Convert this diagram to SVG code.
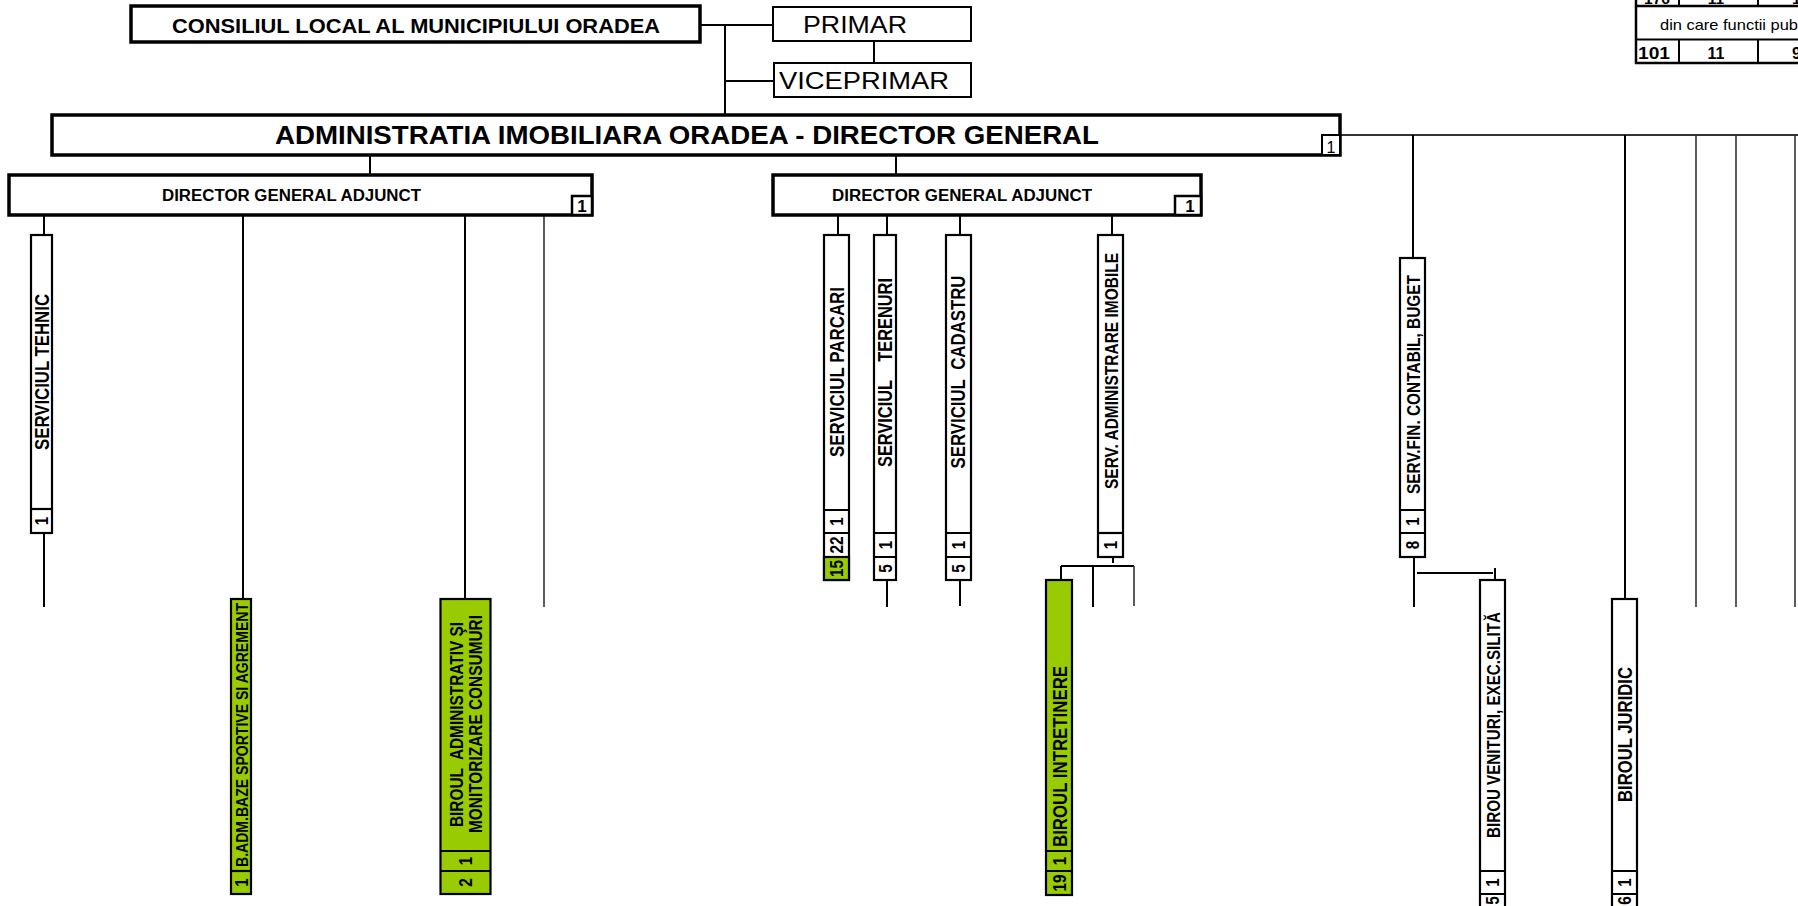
<svg xmlns="http://www.w3.org/2000/svg" width="1798" height="906" viewBox="0 0 1798 906">
<style>
text{font-family:"Liberation Sans",Arial,sans-serif;fill:#000}
.b{font-weight:bold}
.box3{fill:#fff;stroke:#000;stroke-width:3.5}
.box2{fill:#fff;stroke:#000;stroke-width:2}
.vb{fill:#fff;stroke:#000;stroke-width:2.2}
.gb{fill:#99cc00;stroke:#000;stroke-width:2.2}
.dv{stroke:#000;stroke-width:2.2;fill:none}
.cn path{fill:none;stroke:#000;stroke-width:2}
.cn path.thin{stroke:#333;stroke-width:1.6}
.vt{font-weight:bold}
.vn{font-weight:bold;font-size:18px;text-anchor:middle}
.tl{fill:none;stroke:#000;stroke-width:2.5}
</style>

<g id="connectors" class="cn">
<path d="M700,25 H773"/>
<path d="M725,25 V115"/>
<path d="M725,81 H774"/>
<path d="M874,41 V63"/>
<path d="M370,155 V175"/>
<path d="M896,155 V175"/>
<path class="thin" d="M1340,135 H1798" style="stroke-width:1.8"/>
<path d="M1413,135 V258"/>
<path d="M1625,135 V599"/>
<path class="thin" d="M1696,135 V607"/>
<path class="thin" d="M1736,135 V607"/>
<path class="thin" d="M1795,135 V607"/>
<path d="M44,215 V235"/>
<path d="M44,533 V607"/>
<path d="M243,215 V599"/>
<path d="M465,215 V599"/>
<path class="thin" d="M544,215 V607"/>
<path d="M838,215 V235"/>
<path d="M887,215 V235"/>
<path d="M887,580 V607"/>
<path d="M960,215 V235"/>
<path d="M960,580 V606"/>
<path d="M1112,215 V235"/>
<path d="M1113,557 V563"/>
<path d="M1061,566 H1134"/>
<path d="M1061,566 V580"/>
<path d="M1093,566 V607"/>
<path class="thin" d="M1134,566 V606"/>
<path d="M1414,557 V607"/>
<path d="M1417,573 H1493"/>
<path d="M1495,568 V580"/>
</g>

<g id="consiliul">
<rect class="box3" x="131" y="6" width="569" height="36"/>
<text class="b" x="172" y="33" font-size="20.5" textLength="488" lengthAdjust="spacingAndGlyphs">CONSILIUL LOCAL AL MUNICIPIULUI ORADEA</text>
</g>

<g id="primar">
<rect class="box2" x="773" y="7" width="198" height="34"/>
<text x="803" y="33" font-size="24.5" textLength="104" lengthAdjust="spacingAndGlyphs">PRIMAR</text>
</g>

<g id="viceprimar">
<rect class="box2" x="774" y="63" width="197" height="34"/>
<text x="779" y="89" font-size="24.5" textLength="170" lengthAdjust="spacingAndGlyphs">VICEPRIMAR</text>
</g>

<g id="director-general">
<rect class="box3" x="52" y="115" width="1288" height="40"/>
<text class="b" x="275" y="143.5" font-size="25.5" textLength="824" lengthAdjust="spacingAndGlyphs">ADMINISTRATIA IMOBILIARA ORADEA - DIRECTOR GENERAL</text>
<rect class="box2" x="1322" y="135" width="18" height="20"/>
<text x="1331" y="152.5" font-size="16" text-anchor="middle">1</text>
</g>

<g id="dga1">
<rect class="box3" x="9" y="175" width="583" height="40"/>
<text class="b" x="162" y="200.5" font-size="15.8" textLength="259" lengthAdjust="spacingAndGlyphs">DIRECTOR GENERAL ADJUNCT</text>
<rect class="box2" x="572" y="196" width="20" height="19" style="stroke-width:2.5"/>
<text class="b" x="582" y="212" font-size="17" text-anchor="middle">1</text>
</g>

<g id="dga2">
<rect class="box3" x="773" y="175" width="428" height="40"/>
<text class="b" x="832" y="200.5" font-size="15.8" textLength="260" lengthAdjust="spacingAndGlyphs">DIRECTOR GENERAL ADJUNCT</text>
<rect class="box2" x="1175" y="196" width="26" height="19" style="stroke-width:2.5"/>
<text class="b" x="1190" y="212" font-size="17" text-anchor="middle">1</text>
</g>

<g id="serviciul-tehnic">
<rect class="vb" x="31" y="235" width="21" height="298"/>
<path class="dv" d="M31,509 H52"/>
<text class="vt" transform="translate(49,372) rotate(-90)" x="-78" font-size="20.5" textLength="156" lengthAdjust="spacingAndGlyphs">SERVICIUL TEHNIC</text>
<text class="vn" transform="translate(48,521) rotate(-90) scale(0.85,1)">1</text>
</g>

<g id="b-adm-baze">
<rect class="gb" x="231" y="599" width="20" height="295"/>
<path class="dv" d="M231,871 H251"/>
<text class="vt" transform="translate(247.5,735) rotate(-90)" x="-132" font-size="17.4" textLength="264" lengthAdjust="spacingAndGlyphs">B.ADM.BAZE SPORTIVE SI AGREMENT</text>
<text class="vn" transform="translate(247.5,882.5) rotate(-90) scale(0.85,1)">1</text>
</g>

<g id="biroul-administrativ">
<rect class="gb" x="440.5" y="599" width="50" height="295"/>
<path class="dv" d="M440.5,851 H490.5 M440.5,871 H490.5"/>
<text class="vt" transform="translate(462.5,724.5) rotate(-90)" x="-102.5" font-size="18.3" textLength="205" lengthAdjust="spacingAndGlyphs">BIROUL&#160; ADMINISTRATIV ŞI</text>
<text class="vt" transform="translate(481.5,724) rotate(-90)" x="-109" font-size="18.8" textLength="218" lengthAdjust="spacingAndGlyphs">MONITORIZARE CONSUMURI</text>
<text class="vn" transform="translate(472,861) rotate(-90) scale(0.85,1)">1</text>
<text class="vn" transform="translate(472,882.5) rotate(-90) scale(0.85,1)">2</text>
</g>

<g id="serviciul-parcari">
<rect class="vb" x="824" y="235" width="25" height="345"/>
<rect class="gb" x="824" y="557" width="25" height="23"/>
<path class="dv" d="M824,510 H849 M824,533 H849"/>
<text class="vt" transform="translate(843.5,372) rotate(-90)" x="-85" font-size="20" textLength="170" lengthAdjust="spacingAndGlyphs">SERVICIUL PARCARI</text>
<text class="vn" transform="translate(843,521.5) rotate(-90) scale(0.85,1)">1</text>
<text class="vn" transform="translate(843,545) rotate(-90) scale(0.85,1)">22</text>
<text class="vn" transform="translate(843,568.5) rotate(-90) scale(0.85,1)">15</text>
</g>

<g id="serviciul-terenuri">
<rect class="vb" x="874" y="235" width="22" height="345"/>
<path class="dv" d="M874,533 H896 M874,557 H896"/>
<text class="vt" transform="translate(891.5,372.5) rotate(-90)" x="-94.5" font-size="20" textLength="189" lengthAdjust="spacingAndGlyphs">SERVICIUL&#160;&#160;&#160; TERENURI</text>
<text class="vn" transform="translate(891.5,545) rotate(-90) scale(0.85,1)">1</text>
<text class="vn" transform="translate(891.5,568.5) rotate(-90) scale(0.85,1)">5</text>
</g>

<g id="serviciul-cadastru">
<rect class="vb" x="946" y="235" width="25" height="345"/>
<path class="dv" d="M946,533 H971 M946,557 H971"/>
<text class="vt" transform="translate(964.5,372) rotate(-90)" x="-96.5" font-size="20.3" textLength="193" lengthAdjust="spacingAndGlyphs">SERVICIUL&#160; CADASTRU</text>
<text class="vn" transform="translate(965,545) rotate(-90) scale(0.85,1)">1</text>
<text class="vn" transform="translate(965,568.5) rotate(-90) scale(0.85,1)">5</text>
</g>

<g id="serv-administrare-imobile">
<rect class="vb" x="1098" y="235" width="25" height="322"/>
<path class="dv" d="M1098,533 H1123"/>
<text class="vt" transform="translate(1117.5,371) rotate(-90)" x="-118" font-size="18.4" textLength="236" lengthAdjust="spacingAndGlyphs">SERV. ADMINISTRARE IMOBILE</text>
<text class="vn" transform="translate(1117,545) rotate(-90) scale(0.85,1)">1</text>
</g>

<g id="biroul-intretinere">
<rect class="gb" x="1046" y="580" width="26" height="315"/>
<path class="dv" d="M1046,851 H1072 M1046,871 H1072"/>
<text class="vt" transform="translate(1066.5,756.5) rotate(-90)" x="-90.5" font-size="20.5" textLength="181" lengthAdjust="spacingAndGlyphs">BIROUL INTRETINERE</text>
<text class="vn" transform="translate(1065.5,861) rotate(-90) scale(0.85,1)">1</text>
<text class="vn" transform="translate(1065.5,883) rotate(-90) scale(0.85,1)">19</text>
</g>

<g id="serv-fin-contabil">
<rect class="vb" x="1400" y="258" width="25" height="299"/>
<path class="dv" d="M1400,510 H1425 M1400,533 H1425"/>
<text class="vt" transform="translate(1419.5,384.5) rotate(-90)" x="-109.5" font-size="18.7" textLength="219" lengthAdjust="spacingAndGlyphs">SERV.FIN. CONTABIL, BUGET</text>
<text class="vn" transform="translate(1419,521.5) rotate(-90) scale(0.85,1)">1</text>
<text class="vn" transform="translate(1419,545) rotate(-90) scale(0.85,1)">8</text>
</g>

<g id="birou-venituri">
<rect class="vb" x="1480" y="580" width="25" height="340"/>
<path class="dv" d="M1480,871 H1505 M1480,894 H1505"/>
<text class="vt" transform="translate(1499.5,725) rotate(-90)" x="-113" font-size="18.7" textLength="226" lengthAdjust="spacingAndGlyphs">BIROU VENITURI, EXEC.SILITĂ</text>
<text class="vn" transform="translate(1499,882.5) rotate(-90) scale(0.85,1)">1</text>
<text class="vn" transform="translate(1499,900.5) rotate(-90) scale(0.85,1)">5</text>
</g>

<g id="biroul-juridic">
<rect class="gb" x="1612" y="599" width="25" height="321" style="fill:#fff"/>
<path class="dv" d="M1612,871 H1637 M1612,894 H1637"/>
<text class="vt" transform="translate(1632,734.5) rotate(-90)" x="-67.5" font-size="20.3" textLength="135" lengthAdjust="spacingAndGlyphs">BIROUL JURIDIC</text>
<text class="vn" transform="translate(1631,882.5) rotate(-90) scale(0.85,1)">1</text>
<text class="vn" transform="translate(1631,900.5) rotate(-90) scale(0.85,1)">6</text>
</g>

<g id="table">
<path class="tl" d="M1636,-2 V63 H1800 M1636,6 H1800"/>
<path class="tl" d="M1636,39.5 H1800" style="stroke-width:2"/>
<path class="tl" d="M1679,-2 V6 M1758,-2 V6 M1679,39.5 V63 M1758,39.5 V63" style="stroke-width:2"/>
<text class="b" x="1657" y="4" font-size="15.5" text-anchor="middle">176</text>
<text class="b" x="1716" y="4" font-size="15.5" text-anchor="middle">11</text>
<text class="b" x="1792" y="4" font-size="15.5">1</text>
<text x="1660" y="29.5" font-size="14.5" textLength="138" lengthAdjust="spacingAndGlyphs">din care functii pub</text>
<text class="b" x="1638" y="59" font-size="16" textLength="32" lengthAdjust="spacingAndGlyphs">101</text>
<text class="b" x="1716" y="59" font-size="16" text-anchor="middle">11</text>
<text class="b" x="1792" y="59" font-size="16">9</text>
</g>
</svg>
